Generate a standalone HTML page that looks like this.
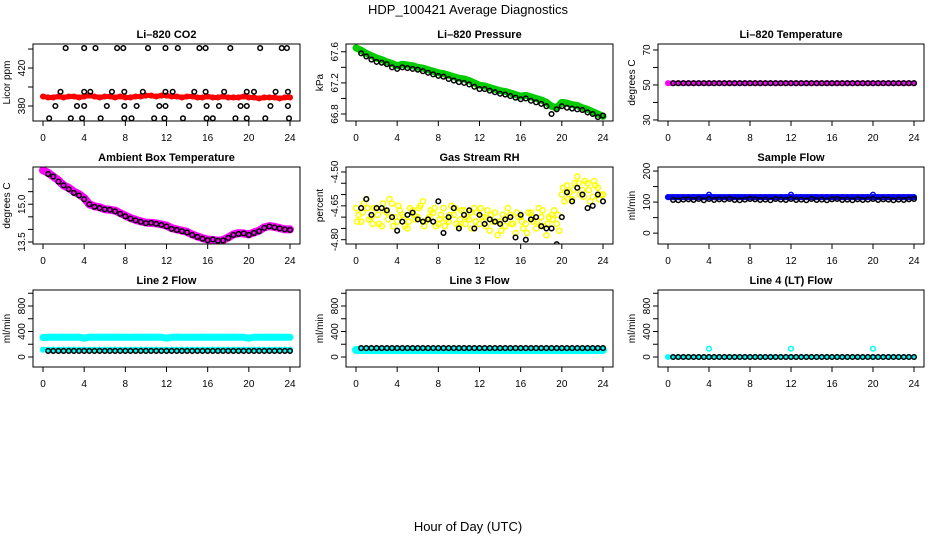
<!DOCTYPE html>
<html><head><meta charset="utf-8"><style>
html,body{margin:0;padding:0;background:#fff;}
svg{display:block;font-family:"Liberation Sans",Arial,sans-serif;}
</style></head><body>
<svg id="chart" width="936" height="540" viewBox="0 0 936 540">
<text x="468" y="14" font-size="13" text-anchor="middle">HDP_100421  Average Diagnostics</text>
<text x="468" y="531" font-size="13" text-anchor="middle">Hour of Day (UTC)</text>
</svg>
<script>
const hours=[0,0.5,1,1.5,2,2.5,3,3.5,4,4.5,5,5.5,6,6.5,7,7.5,8,8.5,9,9.5,10,10.5,11,11.5,12,12.5,13,13.5,14,14.5,15,15.5,16,16.5,17,17.5,18,18.5,19,19.5,20,20.5,21,21.5,22,22.5,23,23.5,24];
const xTicks=[0,4,8,12,16,20,24];
// CO2
const co2Band=[390,389,389,390,389,390,390,389,390,391,390,389,390,390,389,390,389,389,390,390,391,391,390,391,391,390,390,389,390,390,389,389,390,389,389,390,389,389,389,390,389,389,388,389,389,389,388,389,389];
const co2PtT=[2.2,4.0,5.1,7.2,7.8,10.2,11.9,13.1,15.2,15.8,18.2,21.1,23.2,23.7,1.7,4.0,4.6,6.7,7.9,9.7,11.9,12.6,14.7,15.8,17.6,19.8,20.5,22.6,23.8,1.2,3.3,4.0,6.2,7.9,9.1,11.3,11.9,14.2,15.9,17.1,19.2,19.8,22.1,23.8,0.6,2.7,3.8,5.6,7.9,8.6,10.8,11.8,13.6,15.9,16.5,18.7,19.8,21.6,23.9];
const co2PtV=[441,441,441,441,441,441,441,441,441,441,441,441,441,441,395,395,395,395,395,395,395,395,395,395,395,395,395,395,395,380,380,380,380,380,380,380,380,380,380,380,380,380,380,380,367,367,367,367,367,367,367,367,367,367,367,367,367,367,367];
// Pressure
const presBand=[67.65,67.62,67.58,67.55,67.52,67.50,67.47,67.45,67.42,67.44,67.43,67.42,67.40,67.39,67.37,67.35,67.33,67.32,67.30,67.28,67.26,67.25,67.23,67.20,67.17,67.16,67.14,67.12,67.10,67.09,67.07,67.05,67.03,67.04,67.02,67.00,66.98,66.95,66.90,66.88,66.95,66.94,66.92,66.91,66.88,66.86,66.83,66.80,66.77];
const presPts=[67.62,67.58,67.54,67.50,67.47,67.46,67.44,67.40,67.38,67.40,67.39,67.38,67.37,67.35,67.33,67.31,67.29,67.28,67.25,67.23,67.21,67.20,67.18,67.15,67.12,67.12,67.10,67.08,67.06,67.05,67.03,67.01,66.99,67.00,66.97,66.95,66.93,66.90,66.80,66.86,66.90,66.88,66.87,66.86,66.85,66.82,66.80,66.76,66.78];
// Li-820 temperature
const tempBand=[51,51,51,51,51,51,51,51,51,51,51,51,51,51,51,51,51,51,51,51,51,51,51,51,51,51,51,51,51,51,51,51,51,51,51,51,51,51,51,51,51,51,51,51,51,51,51,51,51];
const tempPts=[51,51,51,51,51,51,51,51,51,51,51,51,51,51,51,51,51,51,51,51,51,51,51,51,51,51,51,51,51,51,51,51,51,51,51,51,51,51,51,51,51,51,51,51,51,51,51,51,51];
// Ambient
const ambBand=[16.35,16.25,16.1,15.95,15.75,15.65,15.5,15.4,15.25,15.0,14.92,14.88,14.8,14.78,14.75,14.65,14.55,14.45,14.38,14.32,14.27,14.26,14.24,14.2,14.15,14.05,14.0,13.95,13.9,13.8,13.72,13.65,13.6,13.58,13.55,13.58,13.68,13.8,13.85,13.84,13.8,13.88,13.95,14.08,14.13,14.1,14.05,14.0,14.0];
const ambPts=[16.3,16.2,16.1,15.9,15.75,15.6,15.45,15.35,15.2,15.0,14.9,14.85,14.8,14.78,14.72,14.62,14.52,14.43,14.36,14.3,14.25,14.26,14.22,14.18,14.12,14.02,13.98,13.93,13.88,13.78,13.7,13.63,13.57,13.6,13.55,13.56,13.66,13.78,13.82,13.84,13.78,13.86,13.93,14.06,14.12,14.08,14.04,14.0,13.98];
// Gas stream RH
const rhYellowA=[-4.66,-4.72,-4.62,-4.70,-4.66,-4.74,-4.68,-4.64,-4.72,-4.69,-4.75,-4.67,-4.70,-4.63,-4.71,-4.68,-4.73,-4.66,-4.72,-4.69,-4.74,-4.67,-4.71,-4.66,-4.73,-4.70,-4.76,-4.68,-4.72,-4.74,-4.69,-4.77,-4.70,-4.73,-4.68,-4.75,-4.70,-4.78,-4.69,-4.73,-4.60,-4.56,-4.62,-4.52,-4.58,-4.55,-4.61,-4.57,-4.60];
const rhYellowB=[-4.69,-4.64,-4.71,-4.66,-4.73,-4.67,-4.62,-4.70,-4.67,-4.74,-4.66,-4.71,-4.65,-4.72,-4.67,-4.74,-4.69,-4.71,-4.65,-4.73,-4.67,-4.70,-4.75,-4.68,-4.70,-4.67,-4.72,-4.78,-4.69,-4.66,-4.73,-4.70,-4.75,-4.68,-4.72,-4.66,-4.74,-4.70,-4.67,-4.76,-4.63,-4.59,-4.55,-4.60,-4.54,-4.63,-4.56,-4.60,-4.53];
const rhYellowC=[-4.72,-4.68,-4.66,-4.73,-4.69,-4.64,-4.71,-4.74,-4.65,-4.70,-4.72,-4.69,-4.66,-4.74,-4.70,-4.66,-4.71,-4.74,-4.69,-4.66,-4.71,-4.73,-4.68,-4.72,-4.66,-4.74,-4.69,-4.72,-4.76,-4.70,-4.73,-4.68,-4.72,-4.77,-4.70,-4.72,-4.67,-4.73,-4.71,-4.69,-4.57,-4.62,-4.58,-4.55,-4.61,-4.58,-4.54,-4.62,-4.58];
const rhBlack=[-4.70,-4.66,-4.62,-4.69,-4.66,-4.66,-4.67,-4.70,-4.76,-4.72,-4.69,-4.68,-4.71,-4.72,-4.71,-4.72,-4.63,-4.77,-4.70,-4.66,-4.75,-4.69,-4.67,-4.75,-4.69,-4.73,-4.71,-4.72,-4.73,-4.71,-4.70,-4.79,-4.69,-4.80,-4.71,-4.70,-4.74,-4.75,-4.75,-4.82,-4.70,-4.59,-4.63,-4.57,-4.60,-4.66,-4.65,-4.60,-4.63];
// Sample flow
const sfBlue=[116,116,116,116,116,116,116,116,116,116,116,116,116,116,116,116,116,116,116,116,116,116,116,116,116,116,116,116,116,116,116,116,116,116,116,116,116,116,116,116,116,116,116,116,116,116,116,116,116];
const sfOutT=[4,12,20];
const sfOutV=[124,124,124];
const sfBlack=[110,107,106,108,109,107,110,106,110,107,109,108,110,107,106,108,110,109,107,108,106,110,108,107,110,107,108,106,110,107,108,106,109,110,107,108,106,109,107,108,110,107,109,108,106,108,107,109,110];
// Line 2
const l2CyanHi=[305,310,312,310,311,309,310,312,295,311,310,312,309,311,310,312,310,309,311,310,312,309,311,310,295,310,312,310,309,311,310,312,310,311,309,312,310,311,309,310,295,311,310,309,312,310,311,310,309];
const l2CyanLo=[115,115,115,115,115,115,115,115,115,115,115,115,115,115,115,115,115,115,115,115,115,115,115,115,115,115,115,115,115,115,115,115,115,115,115,115,115,115,115,115,115,115,115,115,115,115,115,115,115];
const l2Black=[95,95,95,95,95,95,95,95,95,95,95,95,95,95,95,95,95,95,95,95,95,95,95,95,95,95,95,95,95,95,95,95,95,95,95,95,95,95,95,95,95,95,95,95,95,95,95,95,95];
// Line 3
const l3Cyan=[110,110,110,110,110,110,110,110,110,110,110,110,110,110,110,110,110,110,110,110,110,110,110,110,110,110,110,110,110,110,110,110,110,110,110,110,110,110,110,110,110,110,110,110,110,110,110,110,110];
const l3Black=[140,140,140,140,140,140,140,140,140,140,140,140,140,140,140,140,140,140,140,140,140,140,140,140,140,140,140,140,140,140,140,140,140,140,140,140,140,140,140,140,140,140,140,140,140,140,140,140,140];
// Line 4
const l4Cyan=[0,0,0,0,0,0,0,0,0,0,0,0,0,0,0,0,0,0,0,0,0,0,0,0,0,0,0,0,0,0,0,0,0,0,0,0,0,0,0,0,0,0,0,0,0,0,0,0,0];
const l4OutT=[4,12,20];
const l4OutV=[130,130,130];
const l4Black=[0,0,0,0,0,0,0,0,0,0,0,0,0,0,0,0,0,0,0,0,0,0,0,0,0,0,0,0,0,0,0,0,0,0,0,0,0,0,0,0,0,0,0,0,0,0,0,0,0];

const NS='http://www.w3.org/2000/svg';
const svg=document.getElementById('chart');
const colX0=[43,356,668], colX24=[290,603,914];
const rowTop=[44,167,290], rowBot=[121,244,367];
function mk(tag,attrs,parent){const e=document.createElementNS(NS,tag);for(const k in attrs)e.setAttribute(k,attrs[k]);(parent||svg).appendChild(e);return e;}

function panel(opts){
  const g=mk('g',{});
  
  
  const x0=colX0[opts.col],x24=colX24[opts.col],top=rowTop[opts.row],bot=rowBot[opts.row];
  const L=x0-10,R=x24+10;
  const sx=t=>x0+t*(x24-x0)/24;
  const sy=v=>bot-(v-opts.ymin)/(opts.ymax-opts.ymin)*(bot-top);
  const t=mk('text',{x:(L+R)/2,y:top-6,'font-size':11,'font-weight':'bold','text-anchor':'middle'},g);
  t.textContent=opts.title;
  
  
  const yt=mk('text',{transform:`translate(${L-23},${(top+bot)/2}) rotate(-90)`,'font-size':10,'text-anchor':'middle'},g);
  yt.textContent=opts.ylab;
  
  
  xTicks.forEach(v=>{
    mk('line',{x1:sx(v),x2:sx(v),y1:bot,y2:bot+5,stroke:'#000'},g);
    const l=mk('text',{x:sx(v),y:bot+20,'font-size':10,'text-anchor':'middle'},g);
    l.textContent=v;
    
    
  });
  opts.yticks.forEach(v=>{
    mk('line',{x1:L-5,x2:L,y1:sy(v),y2:sy(v),stroke:'#000'},g);
  });
  opts.ylabels.forEach(v=>{
    const l=mk('text',{transform:`translate(${L-8},${sy(v)}) rotate(-90)`,'font-size':10,'text-anchor':'middle'},g);
    l.textContent=v;
    
    
  });
  const clip='clip'+opts.name;
  const cp=mk('clipPath',{id:clip},g); mk('rect',{x:L,y:top,width:R-L,height:bot-top},cp);
  const plot=mk('g',{'clip-path':`url(#${clip})`},g);
  opts.series.forEach(s=>{
    const sg=mk('g',{},plot);
    
    
    const ts=s.t||hours;
    if(s.band){
      mk('polyline',{points:ts.map((tt,i)=>sx(tt)+','+sy(s.v[i])).join(' '),fill:'none',stroke:s.color,'stroke-width':s.band,'stroke-linejoin':'round','stroke-linecap':'round'},sg);
    }
    ts.forEach((tt,i)=>{
      if(s.skipFirst&&i===0)return;
      mk('circle',{cx:sx(tt),cy:sy(s.v[i]),r:s.r||2.3,fill:'none',stroke:s.color,'stroke-width':1.5},sg);
    });
  });
  mk('rect',{x:L,y:top,width:R-L,height:bot-top,fill:'none',stroke:'#000'},g);
}

panel({name:'panel-co2',col:0,row:0,title:'Li\u2013820 CO2',ylab:'Licor ppm',ymin:364.2,ymax:445.3,yticks:[380,400,420,440],ylabels:[380,420],
 series:[{name:'co2-series',v:co2Band,color:'#ff0000',band:5},{name:'co2-averages',t:co2PtT,v:co2PtV,color:'#000'}]});
panel({name:'panel-pressure',col:1,row:0,title:'Li\u2013820 Pressure',ylab:'kPa',ymin:66.71,ymax:67.70,yticks:[66.8,67.0,67.2,67.4,67.6],ylabels:['66.8','67.2','67.6'],
 series:[{name:'pressure-series',v:presBand,color:'#00cc00',band:7},{name:'pressure-averages',v:presPts,color:'#000',skipFirst:true}]});
panel({name:'panel-li820-temp',col:2,row:0,title:'Li\u2013820 Temperature',ylab:'degrees C',ymin:29.4,ymax:73.4,yticks:[30,40,50,60,70],ylabels:[30,50,70],
 series:[{name:'temp-series',v:tempBand,color:'#ff00ff',band:5},{name:'temp-averages',v:tempPts,color:'#000',skipFirst:true}]});
panel({name:'panel-ambient-temp',col:0,row:1,title:'Ambient Box Temperature',ylab:'degrees C',ymin:13.42,ymax:16.48,yticks:[13.5,14.0,14.5,15.0,15.5,16.0],ylabels:['13.5','15.0'],
 series:[{name:'ambient-series',v:ambBand,color:'#ff00ff',band:8},{name:'ambient-averages',v:ambPts,color:'#000',skipFirst:true}]});
panel({name:'panel-gas-rh',col:1,row:1,title:'Gas Stream RH',ylab:'percent',ymin:-4.819,ymax:-4.478,yticks:[-4.80,-4.75,-4.70,-4.65,-4.60,-4.55,-4.50],ylabels:['-4.80','-4.65','-4.50'],
 series:[{name:'rh-series-a',v:rhYellowA,color:'#ffff00',r:2.6},{name:'rh-series-b',t:hours.map(h=>h+0.25).slice(0,48),v:rhYellowB,color:'#ffff00',r:2.6},{name:'rh-series-c',t:hours.map(h=>h+0.12).slice(0,48),v:rhYellowC,color:'#ffff00',r:2.6},{name:'rh-averages',v:rhBlack,color:'#000',skipFirst:true}]});
panel({name:'panel-sample-flow',col:2,row:1,title:'Sample Flow',ylab:'ml/min',ymin:-35,ymax:213,yticks:[0,50,100,150,200],ylabels:[0,100,200],
 series:[{name:'sample-flow-series',v:sfBlue,color:'#0000ff',band:6},{name:'sample-flow-outliers',t:sfOutT,v:sfOutV,color:'#0000ff'},{name:'sample-flow-averages',v:sfBlack,color:'#000',skipFirst:true}]});
panel({name:'panel-line2-flow',col:0,row:2,title:'Line 2 Flow',ylab:'ml/min',ymin:-157,ymax:1051,yticks:[0,200,400,600,800,1000],ylabels:[0,400,800],
 series:[{name:'line2-high-series',v:l2CyanHi,color:'#00ffff',band:7},{name:'line2-low-series',v:l2CyanLo,color:'#00ffff',band:5},{name:'line2-averages',v:l2Black,color:'#000',skipFirst:true}]});
panel({name:'panel-line3-flow',col:1,row:2,title:'Line 3 Flow',ylab:'ml/min',ymin:-157,ymax:1051,yticks:[0,200,400,600,800,1000],ylabels:[0,400,800],
 series:[{name:'line3-series',v:l3Cyan,color:'#00ffff',band:8},{name:'line3-averages',v:l3Black,color:'#000',skipFirst:true}]});
panel({name:'panel-line4-flow',col:2,row:2,title:'Line 4 (LT) Flow',ylab:'ml/min',ymin:-157,ymax:1051,yticks:[0,200,400,600,800,1000],ylabels:[0,400,800],
 series:[{name:'line4-series',v:l4Cyan,color:'#00ffff',band:4},{name:'line4-outliers',t:l4OutT,v:l4OutV,color:'#00ffff'},{name:'line4-averages',v:l4Black,color:'#000',skipFirst:true}]});
</script>
</body></html>
